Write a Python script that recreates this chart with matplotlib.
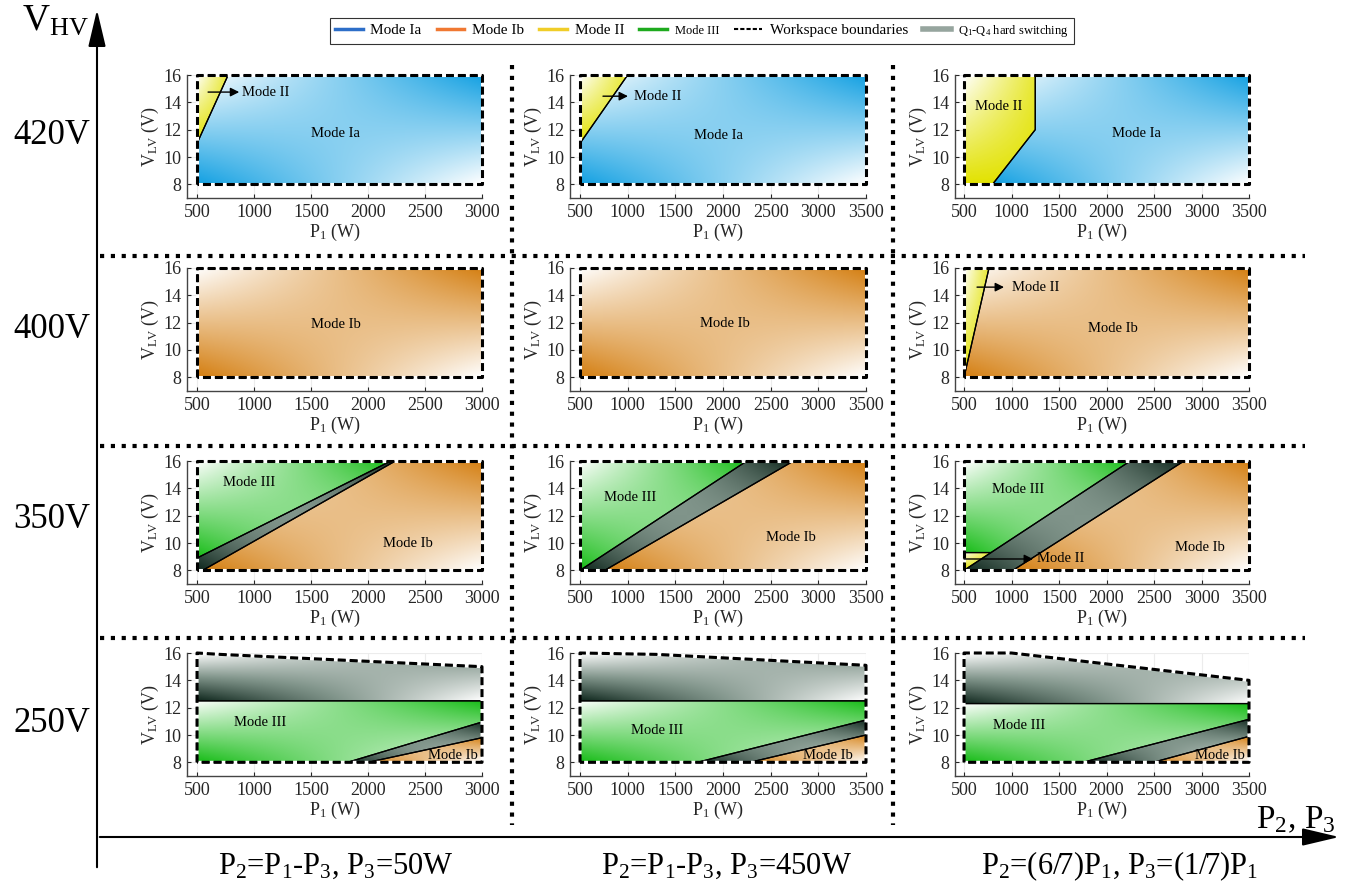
import numpy as np
import matplotlib
matplotlib.use("Agg")
import matplotlib.pyplot as plt
from matplotlib.patches import Polygon, FancyArrowPatch
from matplotlib.lines import Line2D

plt.rcParams['font.family'] = ['Liberation Serif', 'DejaVu Serif']
plt.rcParams['mathtext.fontset'] = 'custom'
plt.rcParams['mathtext.rm'] = 'Liberation Serif'
plt.rcParams['mathtext.it'] = 'Liberation Serif:italic'

# ---------------- data ----------------
row_labels = ["420V", "400V", "350V", "250V"]
col_labels = [r"P$_2$=P$_1$-P$_3$, P$_3$=50W",
              r"P$_2$=P$_1$-P$_3$, P$_3$=450W",
              r"P$_2$=(6/7)P$_1$, P$_3$=(1/7)P$_1$"]
x_max = [3000, 3500, 3500]
x_ticks_c1 = [500, 1000, 1500, 2000, 2500, 3000]
x_ticks_c23 = [500, 1000, 1500, 2000, 2500, 3000, 3500]
y_ticks = [8, 10, 12, 14, 16]

# regions: (mode, P1 vertices, VLV vertices)
regions_420_c1 = [("II", [500, 500, 773], [11, 16, 16]),
                  ("Ia", [500, 500, 773, 3000, 3000], [8, 11, 16, 16, 8])]
regions_420_c2 = [("II", [500, 500, 1000], [11, 16, 16]),
                  ("Ia", [500, 500, 1000, 3500, 3500], [8, 11, 16, 16, 8])]
regions_420_c3 = [("II", [500, 500, 1250, 1250, 800], [8, 16, 16, 12, 8]),
                  ("Ia", [800, 1250, 1250, 3500, 3500], [8, 12, 16, 16, 8])]
regions_400_c1 = [("Ib", [500, 500, 3000, 3000], [8, 16, 16, 8])]
regions_400_c2 = [("Ib", [500, 500, 3500, 3500], [8, 16, 16, 8])]
regions_400_c3 = [("II", [500, 500, 763], [8, 16, 16]),
                  ("Ib", [500, 763, 3500, 3500], [8, 16, 16, 8])]
regions_350_c1 = [("III", [500, 500, 2200], [8.9, 16, 16]),
                  ("HS", [500, 500, 2200, 2240, 550], [8, 8.9, 16, 16, 8]),
                  ("Ib", [550, 2240, 3000, 3000], [8, 16, 16, 8])]
regions_350_c2 = [("III", [500, 500, 2250], [8, 16, 16]),
                  ("HS", [500, 2250, 2740, 760], [8, 16, 16, 8]),
                  ("Ib", [760, 2740, 3500, 3500], [8, 16, 16, 8])]
regions_350_c3 = [("II", [500, 500, 784], [8, 9.3, 9.3]),
                  ("III", [500, 500, 2250, 784], [9.3, 16, 16, 9.3]),
                  ("HS", [500, 784, 2250, 2816, 1015], [8, 9.3, 16, 16, 8]),
                  ("Ib", [1015, 2816, 3500, 3500], [8, 16, 16, 8])]
regions_250_c1 = [("HStop", [500, 500, 700, 3000, 3000], [12.5, 16, 15.9, 15, 12.5]),
                  ("III", [500, 500, 3000, 3000, 1820], [8, 12.5, 12.5, 10.95, 8]),
                  ("HS", [1820, 3000, 3000, 2000], [8, 10.95, 9.8, 8]),
                  ("Ib", [2000, 3000, 3000], [8, 9.8, 8])]
regions_250_c2 = [("HStop", [500, 500, 1300, 3500, 3500], [12.5, 16, 15.9, 15.1, 12.5]),
                  ("III", [500, 500, 3500, 3500, 1730], [8, 12.5, 12.5, 11.1, 8]),
                  ("HS", [1730, 3500, 3500, 2280], [8, 11.1, 10.0, 8]),
                  ("Ib", [2280, 3500, 3500], [8, 10.0, 8])]
regions_250_c3 = [("HStop", [500, 500, 1000, 3500, 3500], [12.3, 16, 16, 14, 12.3]),
                  ("III", [500, 500, 3500, 3500, 1750], [8, 12.3, 12.3, 11.15, 8]),
                  ("HS", [1750, 3500, 3500, 2490], [8, 11.15, 9.9, 8]),
                  ("Ib", [2490, 3500, 3500], [8, 9.9, 8])]

# workspace boundary top edges for the 250V row
top_250_c1 = ([500, 700, 3000], [16, 15.9, 15])
top_250_c2 = ([500, 1300, 3500], [16, 15.9, 15.1])
top_250_c3 = ([500, 1000, 3500], [16, 16, 14])

# text labels (text, P1, VLV, align)
labels_420_c1 = [("Mode Ia", 1715, 11.7, "center"), ("Mode II", 896, 14.75, "left")]
labels_420_c2 = [("Mode Ia", 1948, 11.6, "center"), ("Mode II", 1066, 14.45, "left")]
labels_420_c3 = [("Mode Ia", 2310, 11.7, "center"), ("Mode II", 868, 13.7, "center")]
labels_400_c1 = [("Mode Ib", 1715, 11.83, "center")]
labels_400_c2 = [("Mode Ib", 2021, 11.97, "center")]
labels_400_c3 = [("Mode Ib", 2068, 11.6, "center"), ("Mode II", 1005, 14.6, "left")]
labels_350_c1 = [("Mode III", 957, 14.4, "center"), ("Mode Ib", 2349, 9.93, "center")]
labels_350_c2 = [("Mode III", 1025, 13.3, "center"), ("Mode Ib", 2714, 10.4, "center")]
labels_350_c3 = [("Mode III", 1068, 13.95, "center"), ("Mode Ib", 2984, 9.7, "center"),
                 ("Mode II", 1268, 8.83, "left")]
labels_250_c1 = [("Mode III", 1055, 10.9, "center"), ("Mode Ib", 2745, 8.5, "center")]
labels_250_c2 = [("Mode III", 1308, 10.3, "center"), ("Mode Ib", 3102, 8.5, "center")]
labels_250_c3 = [("Mode III", 1079, 10.66, "center"), ("Mode Ib", 3195, 8.5, "center")]

# arrows (P1 start, P1 end, VLV)
arrows_420_c1 = [(597, 870, 14.75)]
arrows_420_c2 = [(741, 1003, 14.45)]
arrows_400_c3 = [(637, 921, 14.6)]
arrows_350_c3 = [(500, 1226, 8.83)]

panels = [
    [(regions_420_c1, labels_420_c1, arrows_420_c1),
     (regions_420_c2, labels_420_c2, arrows_420_c2),
     (regions_420_c3, labels_420_c3, [])],
    [(regions_400_c1, labels_400_c1, []),
     (regions_400_c2, labels_400_c2, []),
     (regions_400_c3, labels_400_c3, arrows_400_c3)],
    [(regions_350_c1, labels_350_c1, []),
     (regions_350_c2, labels_350_c2, []),
     (regions_350_c3, labels_350_c3, arrows_350_c3)],
    [(regions_250_c1, labels_250_c1, []),
     (regions_250_c2, labels_250_c2, []),
     (regions_250_c3, labels_250_c3, [])],
]
tops_250 = [top_250_c1, top_250_c2, top_250_c3]

# ---------------- styles ----------------
mode_rgb = {"Ia": (18, 160, 226), "Ib": (212, 126, 16), "II": (226, 226, 0),
            "III": (22, 188, 22)}
# bilinear corner values (bl, br, tl, tr): 0 -> white, 1 -> full colour
corner_vals = {"Ia": (1, 0, 0, 1), "Ib": (1, 0, 0, 1), "II": (1, 1, 0, 0.8),
               "III": (1, 0, 0, 1), "HS": (1, 0, 0, 1), "HStop": (1, 0, 0, 0.55)}
hs_stops = np.array([[255, 255, 255], [128, 148, 138], [14, 38, 28]]) / 255.0

fig = plt.figure(figsize=(13.51, 8.86), dpi=100)

col_left = [187, 570, 955]
col_width = [295, 296, 294]
row_bottom_px = [198, 391, 584, 776]
ax_h = 123
x_left = [412, 395, 405]
W, H = 1351.0, 886.0


def grad_fill(ax, xs, ys, mode):
    x0, x1 = min(xs), max(xs)
    y0, y1 = min(ys), max(ys)
    n = 160
    U, V = np.meshgrid(np.linspace(0, 1, n), np.linspace(0, 1, n))
    bl, br, tl, tr = corner_vals[mode]
    t = bl * (1 - U) * (1 - V) + br * U * (1 - V) + tl * (1 - U) * V + tr * U * V
    if mode in ("HS", "HStop"):
        img = np.stack([np.interp(t, [0, 0.5, 1], hs_stops[:, k]) for k in range(3)], axis=-1)
    else:
        c = np.array(mode_rgb[mode]) / 255.0
        img = (1 - t)[..., None] * 1.0 + t[..., None] * c
    im = ax.imshow(img, extent=(x0, x1, y0, y1), origin='lower', aspect='auto',
                   interpolation='bilinear', zorder=2)
    poly = Polygon(np.c_[xs, ys], closed=True, fc='none', ec='k', lw=0.9, zorder=3)
    ax.add_patch(poly)
    im.set_clip_path(poly)


for r in range(4):
    for c in range(3):
        ax = fig.add_axes([col_left[c] / W, 1 - row_bottom_px[r] / H,
                           col_width[c] / W, ax_h / H])
        regs, labs, arrs = panels[r][c]
        for mode, xs, ys in regs:
            grad_fill(ax, xs, ys, mode)
        xm = x_max[c]
        if r == 3:
            tx, ty = tops_250[c]
            bx = [500] + list(tx) + [xm, 500]
            by = [8] + list(ty) + [8, 8]
        else:
            bx = [500, 500, xm, xm, 500]
            by = [8, 16, 16, 8, 8]
        ax.plot(bx, by, color='k', lw=2.2, ls=(0, (2.6, 1.3)), gapcolor='white',
                zorder=6, clip_on=False, solid_joinstyle='miter')
        for txt, x, y, ha in labs:
            ax.text(x, y, txt, ha=ha, va='center', fontsize=10.5, zorder=8)
        for xa, xb, ya in arrs:
            ax.annotate('', xy=(xb, ya), xytext=(xa, ya), zorder=8,
                        arrowprops=dict(arrowstyle='-|>', color='k', lw=1.0,
                                        mutation_scale=13, shrinkA=0, shrinkB=0))
        ax.set_xlim(x_left[c], xm)
        ax.set_ylim(7, 16)
        ax.set_xticks(x_ticks_c1 if c == 0 else x_ticks_c23)
        ax.set_yticks(y_ticks)
        ax.grid(True, color='#ececec', lw=0.8)
        ax.set_axisbelow(True)
        for s in ('top', 'right'):
            ax.spines[s].set_visible(False)
        for s in ('left', 'bottom'):
            ax.spines[s].set_color('#444444')
            ax.spines[s].set_linewidth(1.0)
        ax.tick_params(direction='in', length=3, labelsize=13, colors='#262626',
                       pad=4)
        ax.set_xlabel(r"P$_1$ (W)", fontsize=13, labelpad=1, color='#262626')
        ax.set_ylabel(r"V$_{\rm LV}$ (V)", fontsize=13, labelpad=2, color='#262626')

# dotted separators
for yp in [256, 446, 638]:
    fig.add_artist(Line2D([100 / W, 1305 / W], [1 - yp / H, 1 - yp / H],
                          transform=fig.transFigure, color='k', lw=3,
                          ls=(0, (1, 1.6))))
for xp in [512, 893]:
    fig.add_artist(Line2D([xp / W, xp / W], [1 - 65 / H, 1 - 825 / H],
                          transform=fig.transFigure, color='k', lw=3,
                          ls=(0, (1, 1.6))))

# outer axes arrows
fig.add_artist(FancyArrowPatch(
    (97 / W, 1 - 870 / H), (97 / W, 1 - 7 / H), transform=fig.transFigure,
    arrowstyle='-|>,head_length=1.9,head_width=0.45', mutation_scale=12,
    color='k', lw=1.5))
fig.add_artist(FancyArrowPatch(
    (97 / W, 1 - 837 / H), (1342 / W, 1 - 837 / H), transform=fig.transFigure,
    arrowstyle='-|>,head_length=1.9,head_width=0.45', mutation_scale=12,
    color='k', lw=1.5))

fig.text(22 / W, 1 - 3 / H, r"V$_{\rm HV}$", fontsize=27, va='top', ha='left')
fig.text(1336 / W, 1 - 828 / H, r"P$_2$, P$_3$", fontsize=24, va='baseline', ha='right')

row_y = [135, 330, 520, 723]
for lab, yp in zip(row_labels, row_y):
    fig.text(52 / W, 1 - yp / H, lab, fontsize=25, ha='center', va='center')

col_x = [336, 727, 1120]
for lab, xp in zip(col_labels, col_x):
    fig.text(xp / W, 1 - 866 / H, lab, fontsize=22, ha='center', va='center')

# legend
leg_colors = [np.array(v) / 255 for v in [(45, 110, 200), (240, 120, 50),
                                          (240, 205, 40), (30, 170, 30)]]
handles = [Line2D([], [], color=leg_colors[0], lw=2.5),
           Line2D([], [], color=leg_colors[1], lw=2.5),
           Line2D([], [], color=leg_colors[2], lw=2.5),
           Line2D([], [], color=leg_colors[3], lw=2.5),
           Line2D([], [], color='k', lw=1.5, ls=(0, (2, 1))),
           Line2D([], [], color=(150 / 255, 165 / 255, 158 / 255), lw=4)]
names = ["Mode Ia", "Mode Ib", "Mode II", "Mode III", "Workspace boundaries",
         r"Q$_1$-Q$_4$ hard switching"]
leg = fig.legend(handles, names, loc='center', bbox_to_anchor=(702 / W, 1 - 31 / H),
                 ncol=6, fontsize=11, frameon=True, fancybox=False, edgecolor='k',
                 handlelength=1.8, handletextpad=0.5, columnspacing=1.0,
                 borderpad=0.35)
leg.get_frame().set_linewidth(0.8)
leg.get_texts()[3].set_fontsize(9)
leg.get_texts()[5].set_fontsize(9)

fig.savefig("out.png", dpi=100)
